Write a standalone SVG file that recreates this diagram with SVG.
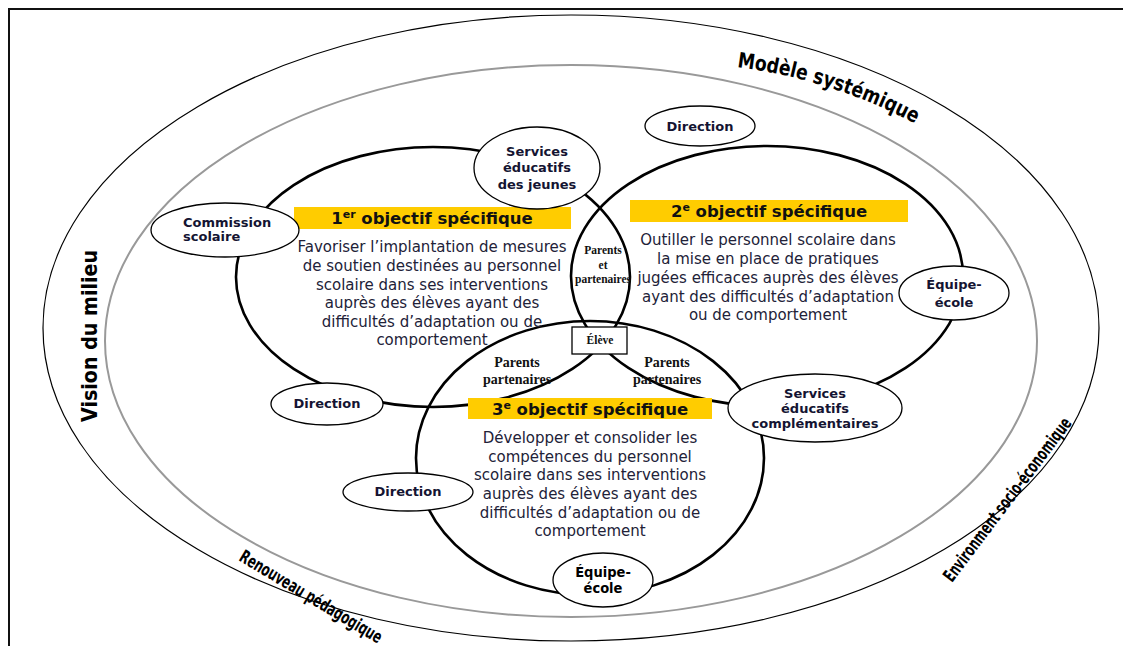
<svg xmlns="http://www.w3.org/2000/svg" width="1123" height="646" viewBox="0 0 1123 646">
<style>
.circ{fill:none;stroke:#000;stroke-width:2.6}
.node{fill:#fff;stroke:#000;stroke-width:1.3}
.gold{fill:#ffcc00}
.title{font-family:"DejaVu Sans",Verdana,sans-serif;font-weight:bold;font-size:16.5px;fill:#111;text-anchor:middle}
.body{font-family:"DejaVu Sans",Verdana,sans-serif;font-size:15px;fill:#222238;text-anchor:middle}
.lbl{font-family:"DejaVu Sans",Verdana,sans-serif;font-weight:bold;font-size:13px;fill:#141432;text-anchor:middle}
.ser{font-family:"Liberation Serif","Times New Roman",serif;font-weight:bold;fill:#111;text-anchor:middle}
.cond{font-family:"DejaVu Sans Condensed","DejaVu Sans",sans-serif;font-stretch:condensed;font-weight:bold;fill:#000}
</style>
<defs>
<path id="pModele" d="M 737 67 Q 830 79 914 123"/>
</defs>
<rect width="1123" height="646" fill="#fff"/>
<path d="M 9 646 V 9 H 1123" fill="none" stroke="#111" stroke-width="2"/>
<g id="outer">
<ellipse cx="571" cy="328" rx="528" ry="313" fill="none" stroke="#000" stroke-width="1.2"/>
<ellipse cx="571" cy="341" rx="466" ry="276" fill="none" stroke="#999" stroke-width="2"/>
<text class="cond" font-size="21"><textPath href="#pModele" textLength="188" lengthAdjust="spacingAndGlyphs">Modèle systémique</textPath></text>
<text font-family="DejaVu Sans, sans-serif" font-weight="bold" font-size="21" transform="translate(97,422) rotate(-90)" textLength="172" lengthAdjust="spacingAndGlyphs">Vision du milieu</text>
<text class="cond" font-size="18" transform="translate(238,560) rotate(31)" textLength="163" lengthAdjust="spacingAndGlyphs">Renouveau pédagogique</text>
<text class="cond" font-size="18" transform="translate(952,583) rotate(-53)" textLength="200" lengthAdjust="spacingAndGlyphs">Environment socio-économique</text>
</g>
<g id="connectors">
<ellipse class="circ" cx="433" cy="277" rx="197" ry="130"/>
<ellipse class="circ" cx="767" cy="276" rx="196" ry="130"/>
<ellipse class="circ" cx="590" cy="458" rx="174" ry="137"/>
</g>
<g id="obj1">
<rect class="gold" x="294" y="207" width="277" height="22"/>
<text class="title" x="432" y="224">1<tspan font-size="11" dy="-6">er</tspan><tspan dy="6"> objectif spécifique</tspan></text>
<text class="body" x="432"><tspan x="432" y="252">Favoriser l’implantation de mesures</tspan><tspan x="432" y="271">de soutien destinées au personnel</tspan><tspan x="432" y="290">scolaire dans ses interventions</tspan><tspan x="432" y="308">auprès des élèves ayant des</tspan><tspan x="432" y="327">difficultés d’adaptation ou de</tspan><tspan x="432" y="345">comportement</tspan></text>
</g>
<g id="obj2">
<rect class="gold" x="630" y="200" width="278" height="22"/>
<text class="title" x="769" y="217">2<tspan font-size="11" dy="-6">e</tspan><tspan dy="6"> objectif spécifique</tspan></text>
<text class="body"><tspan x="768" y="245">Outiller le personnel scolaire dans</tspan><tspan x="768" y="264">la mise en place de pratiques</tspan><tspan x="768" y="283">jugées efficaces auprès des élèves</tspan><tspan x="768" y="302">ayant des difficultés d’adaptation</tspan><tspan x="768" y="320">ou de comportement</tspan></text>
</g>
<g id="obj3">
<rect class="gold" x="468" y="398" width="244" height="21"/>
<text class="title" x="590" y="415">3<tspan font-size="11" dy="-6">e</tspan><tspan dy="6"> objectif spécifique</tspan></text>
<text class="body"><tspan x="590" y="443">Développer et consolider les</tspan><tspan x="590" y="462">compétences du personnel</tspan><tspan x="590" y="480">scolaire dans ses interventions</tspan><tspan x="590" y="499">auprès des élèves ayant des</tspan><tspan x="590" y="518">difficultés d’adaptation ou de</tspan><tspan x="590" y="536">comportement</tspan></text>
</g>
<g id="lens-label">
<text class="ser" font-size="11.5"><tspan x="603" y="254">Parents</tspan><tspan x="603" y="269">et</tspan><tspan x="603" y="283">partenaires</tspan></text>
</g>
<g id="parents-left">
<text class="ser" font-size="14"><tspan x="517" y="367">Parents</tspan><tspan x="517" y="384">partenaires</tspan></text>
</g>
<g id="parents-right">
<text class="ser" font-size="14"><tspan x="667" y="367">Parents</tspan><tspan x="667" y="384">partenaires</tspan></text>
</g>
<g id="eleve">
<rect class="node" x="572" y="327" width="55" height="27"/>
<text class="ser" font-size="11.5" x="600" y="344">Élève</text>
</g>
<g id="direction-top">
<ellipse class="node" cx="700" cy="126" rx="55" ry="20"/>
<text class="lbl" x="700" y="131">Direction</text>
</g>
<g id="services-jeunes">
<ellipse class="node" cx="537" cy="168" rx="63" ry="41"/>
<text class="lbl" font-size="13.5"><tspan x="537" y="156">Services</tspan><tspan x="537" y="172">éducatifs</tspan><tspan x="537" y="189">des jeunes</tspan></text>
</g>
<g id="commission">
<ellipse class="node" cx="225" cy="230" rx="74" ry="27"/>
<text class="lbl" font-size="12" style="text-anchor:start"><tspan x="183" y="227">Commission</tspan><tspan x="183" y="241">scolaire</tspan></text>
</g>
<g id="equipe-right">
<ellipse class="node" cx="954" cy="293" rx="55" ry="27"/>
<text class="lbl" font-size="13.5"><tspan x="954" y="289">Équipe-</tspan><tspan x="954" y="307">école</tspan></text>
</g>
<g id="direction-mid">
<ellipse class="node" cx="327" cy="404" rx="56" ry="21"/>
<text class="lbl" x="327" y="408">Direction</text>
</g>
<g id="services-compl">
<ellipse class="node" cx="815" cy="408" rx="87" ry="34"/>
<text class="lbl" font-size="11.8"><tspan x="815" y="397.5">Services</tspan><tspan x="815" y="412.5">éducatifs</tspan><tspan x="815" y="427.5">complémentaires</tspan></text>
</g>
<g id="direction-low">
<ellipse class="node" cx="408" cy="492" rx="65" ry="19"/>
<text class="lbl" x="408" y="496">Direction</text>
</g>
<g id="equipe-bottom">
<ellipse class="node" cx="603" cy="580" rx="50" ry="27"/>
<text class="cond" font-size="14.5" fill="#141432" style="text-anchor:middle"><tspan x="603" y="577">Équipe-</tspan><tspan x="603" y="593">école</tspan></text>
</g>
</svg>
